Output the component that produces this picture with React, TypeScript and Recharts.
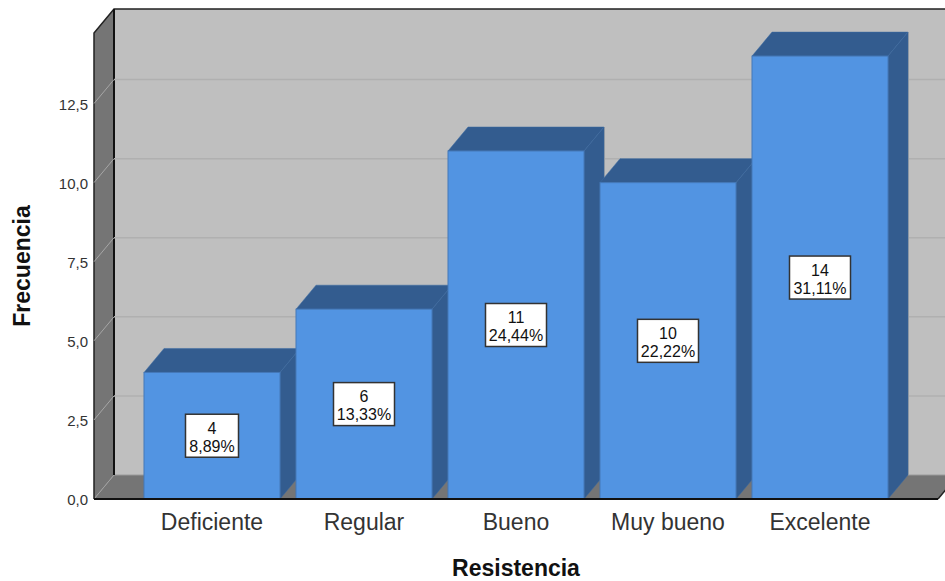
import { BarChart, Bar, XAxis, YAxis, ReferenceArea, LabelList } from 'recharts'

const categories = ['Deficiente', 'Regular', 'Bueno', 'Muy bueno', 'Excelente']
const counts = [4, 6, 11, 10, 14]
const percents = ['8,89%', '13,33%', '24,44%', '22,22%', '31,11%']
const yTicks = [0, 2.5, 5, 7.5, 10, 12.5]
const gridTicks = [2.5, 5, 7.5, 10, 12.5]
const yMax = 14.73

const data = categories.map((name, i) => ({ name, count: counts[i], pct: percents[i] }))

const FONT = '"Liberation Sans", Arial, sans-serif'
// depth of the fake 3D box
const DX = 20
const DY = 24
const PAD = 42

const Walls = (props: any) => {
  const { y, height } = props
  const x = props.x - PAD
  const right = props.x + props.width + PAD
  const bottom = y + height
  return (
    <g>
      {/* back wall */}
      <polygon points={`${x + DX},${y - DY} ${right + DX},${y - DY} ${right + DX},${bottom - DY} ${x + DX},${bottom - DY}`} fill="#bfbfbf" />
      {/* left wall */}
      <polygon points={`${x},${y} ${x + DX},${y - DY} ${x + DX},${bottom - DY} ${x},${bottom}`} fill="#757575" />
      {/* floor */}
      <polygon points={`${x},${bottom} ${x + DX},${bottom - DY} ${right + DX},${bottom - DY} ${right},${bottom}`} fill="#757575" />
      <line x1={x + DX} y1={bottom - DY} x2={right + DX} y2={bottom - DY} stroke="#9a9a9a" strokeWidth={1} />
      <line x1={x} y1={bottom} x2={x + DX} y2={bottom - DY} stroke="#a0a0a0" strokeWidth={1} />
      {/* dark outline */}
      <polyline points={`${x},${bottom} ${x},${y} ${x + DX},${y - DY} ${right + DX},${y - DY}`} fill="none" stroke="#222" strokeWidth={1.5} />
      <line x1={x + DX} y1={y - DY} x2={x + DX} y2={bottom - DY} stroke="#111" strokeWidth={2} />
      <line x1={right} y1={bottom} x2={right + DX} y2={bottom - DY} stroke="#222" strokeWidth={1.5} />
    </g>
  )
}

// zero-height reference area, so the line stays behind the bars
const GridLine = (props: any) => {
  const { y } = props
  const x = props.x - PAD
  const right = props.x + props.width + PAD
  return (
    <g>
      <line x1={x} y1={y} x2={x + DX} y2={y - DY} stroke="#a6a6a6" strokeWidth={1} />
      <line x1={x + DX} y1={y - DY} x2={right + DX} y2={y - DY} stroke="#b0b0b0" strokeWidth={1.5} />
    </g>
  )
}

const Bar3D = ({ x, y, width, height }: any) => {
  const right = x + width
  const bottom = y + height
  return (
    <g>
      <line x1={right + DX + 0.5} y1={y - DY} x2={right + DX + 0.5} y2={bottom - DY} stroke="#a8a8a8" strokeWidth={1} />
      <polygon points={`${x},${y} ${x + DX},${y - DY} ${right + DX},${y - DY} ${right},${y}`} fill="#335c8f" stroke="#3b6aa3" strokeWidth={0.5} />
      <polygon points={`${right},${y} ${right + DX},${y - DY} ${right + DX},${bottom - DY} ${right},${bottom}`} fill="#335c8f" stroke="#3b6aa3" strokeWidth={0.5} />
      <rect x={x} y={y} width={width} height={height} fill="#5294e2" stroke="#4478b8" strokeWidth={1} />
    </g>
  )
}

const BoxLabel = ({ x, y, width, height, index }: any) => {
  const cx = x + width / 2
  const cy = y + height / 2
  const pct = percents[index]
  const w = pct.length > 5 ? 61 : 53
  return (
    <g fontFamily={FONT} fontSize={16} fill="#111" textAnchor="middle">
      <rect x={cx - w / 2} y={cy - 21.5} width={w} height={43} fill="#fff" stroke="#333" strokeWidth={1.5} />
      <text x={cx} y={cy - 2}>{counts[index]}</text>
      <text x={cx} y={cy + 16}>{pct}</text>
    </g>
  )
}

export default function App() {
  return (
    <div style={{ position: 'absolute', left: 0, top: 0, width: 945, height: 581, overflow: 'hidden', background: '#fff' }}>
      <BarChart width={945} height={581} data={data} margin={{ top: 33, right: 7, bottom: 0, left: 0 }}>
        <XAxis
          dataKey="name"
          height={82}
          padding={{ left: PAD, right: PAD }}
          tick={{ fill: '#333', fontSize: 23, fontFamily: FONT }}
          tickLine={false}
          tickMargin={9}
          axisLine={{ stroke: '#111', strokeWidth: 2 }}
          label={{ value: 'Resistencia', position: 'insideBottom', offset: 5, fill: '#111', fontSize: 23, fontWeight: 700, fontFamily: FONT }}
        />
        <YAxis
          width={94}
          domain={[0, yMax]}
          ticks={yTicks}
          tickFormatter={(v: number) => v.toFixed(1).replace('.', ',')}
          tick={{ fill: '#333', fontSize: 15, fontFamily: FONT, dy: 1 }}
          tickLine={false}
          axisLine={false}
          tickMargin={0}
          label={{ value: 'Frecuencia', angle: -90, position: 'insideLeft', offset: 22, textAnchor: 'middle', fill: '#111', fontSize: 23, fontWeight: 700, fontFamily: FONT }}
        />
        <ReferenceArea y1={0} y2={yMax} shape={<Walls />} />
        {gridTicks.map(t => (
          <ReferenceArea key={t} y1={t} y2={t} shape={<GridLine />} />
        ))}
        <Bar dataKey="count" barSize={136} shape={<Bar3D />} isAnimationActive={false}>
          <LabelList dataKey="count" content={<BoxLabel />} />
        </Bar>
      </BarChart>
    </div>
  )
}
